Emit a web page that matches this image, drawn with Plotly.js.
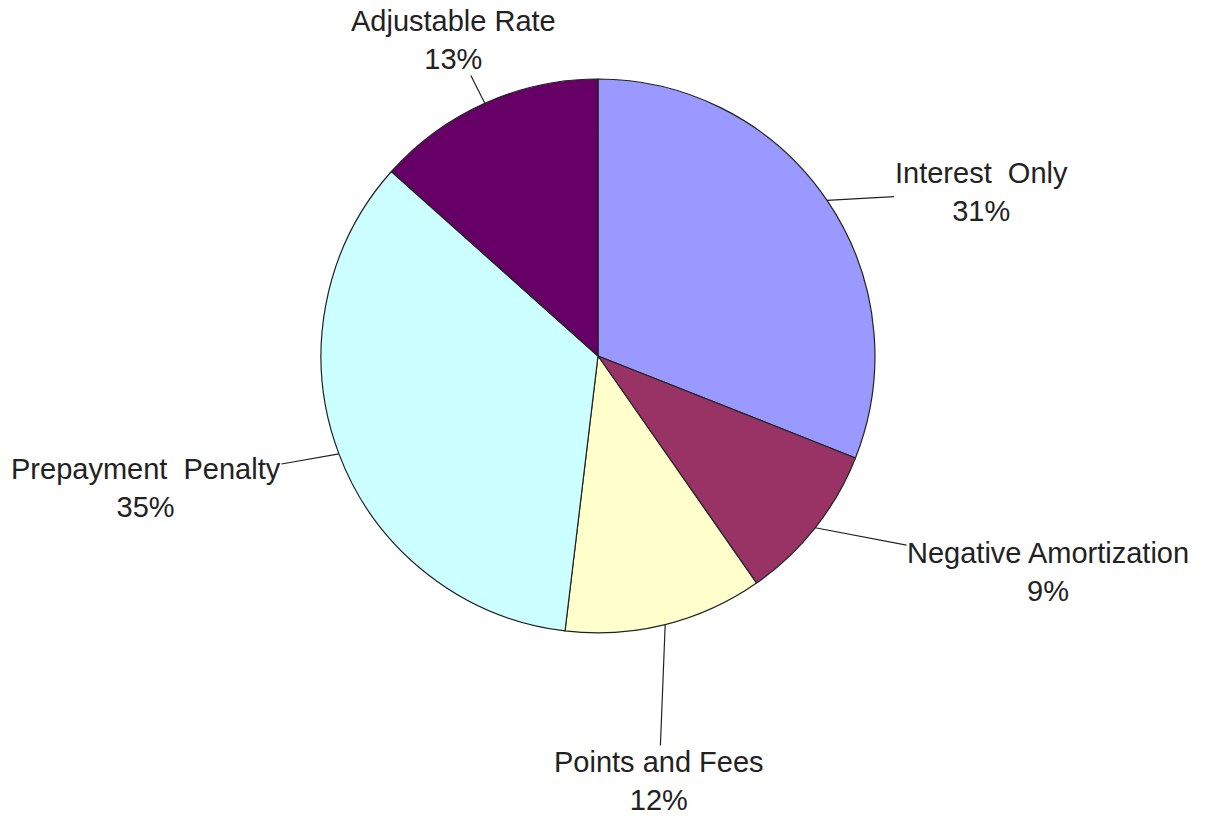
<!DOCTYPE html>
<html>
<head>
<meta charset="utf-8">
<script src="https://cdn.plot.ly/plotly-3.0.1.min.js"></script>
<style>html,body{margin:0;padding:0;background:#fff;}#chart{width:1211px;height:816px;}</style>
</head>
<body>
<div id="chart"></div>
<script>
// ---- data ----
const categories = ["Interest  Only", "Negative Amortization", "Points and Fees", "Prepayment  Penalty", "Adjustable Rate"];
const values = [31.0, 9.3, 11.6, 34.7, 13.4];
const colors = ["#9999FF", "#993366", "#FFFFCC", "#CCFFFF", "#660066"];

// ---- layout constants ----
const W = 1211, H = 816;
const domainX = [0.2651, 0.7225];
const domainY = [0.2243, 0.9032];
// label block centres (pixels), one per category
const labelPos = [[981, 192], [1048, 572], [659, 781], [146, 488], [453, 40]];

const cx = (domainX[0] + domainX[1]) / 2 * W;
const cy = (1 - (domainY[0] + domainY[1]) / 2) * H;
const R = Math.min((domainX[1] - domainX[0]) * W, (domainY[1] - domainY[0]) * H) / 2;

const total = values.reduce((a, b) => a + b, 0);
let cum = 0;
const annotations = values.map((v, i) => {
  const mid = (cum + v / 2) / total * 2 * Math.PI;
  cum += v;
  const px = cx + R * Math.sin(mid);
  const py = cy - R * Math.cos(mid);
  return {
    x: px / W, y: 1 - py / H, xref: 'paper', yref: 'paper',
    ax: labelPos[i][0] - px, ay: labelPos[i][1] - py,
    text: categories[i] + '<br>' + Math.round(v / total * 100) + '%',
    showarrow: true, arrowhead: 0, arrowwidth: 1.2, arrowcolor: '#222',
    standoff: 0, startstandoff: 0, borderpad: 0,
    align: 'center',
    font: {family: 'Liberation Sans, Arial, sans-serif', size: 29, color: '#222'}
  };
});

const trace = {
  type: 'pie',
  labels: categories,
  values: values,
  sort: false,
  direction: 'clockwise',
  rotation: 0,
  textinfo: 'none',
  hoverinfo: 'none',
  showlegend: false,
  domain: {x: domainX, y: domainY},
  marker: {colors: colors, line: {color: '#222', width: 1.2}}
};

const layout = {
  width: W, height: H,
  margin: {l: 0, r: 0, t: 0, b: 0},
  paper_bgcolor: '#fff',
  showlegend: false,
  annotations: annotations
};

Plotly.newPlot('chart', [trace], layout, {displayModeBar: false, staticPlot: true});
</script>
</body>
</html>
